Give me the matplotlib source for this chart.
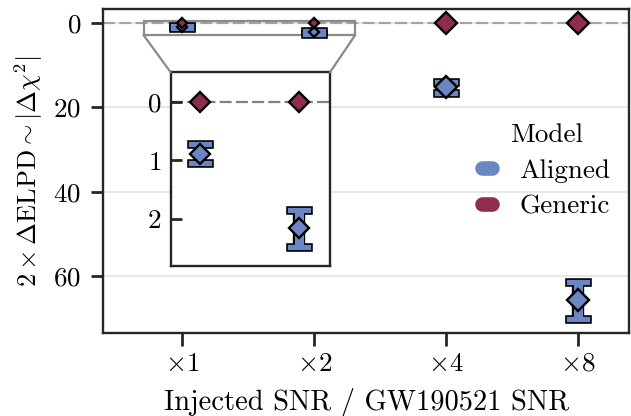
import matplotlib
matplotlib.use("Agg")
import matplotlib.pyplot as plt
from matplotlib.lines import Line2D
from matplotlib.markers import MarkerStyle
from matplotlib.patches import Rectangle, ConnectionPatch
import numpy as np

plt.rcParams.update({
    "font.family": "serif",
    "font.serif": ["cmr10"],
    "mathtext.fontset": "cm",
    "axes.unicode_minus": False,
    "axes.formatter.use_mathtext": True,
    "font.size": 19.5,
})

# injected SNR multipliers and 2*dELPD per model
snr_labels = [r"$\times 1$", r"$\times 2$", r"$\times 4$", r"$\times 8$"]
aligned_mean = [0.89, 2.16, 15.2, 65.8]
aligned_lo = [0.72, 1.85, 13.9, 61.4]
aligned_hi = [1.05, 2.47, 16.5, 70.2]
generic_mean = [0.0, 0.0, 0.0, 0.0]

blue = "#6a87c4"
red = "#8e2d50"
dark = "#262626"

x = np.arange(len(snr_labels))
aligned_mean = np.array(aligned_mean)
yerr = np.vstack([aligned_mean - np.array(aligned_lo),
                  np.array(aligned_hi) - aligned_mean])

fig = plt.figure(figsize=(6.31, 4.16), dpi=100)
ax = fig.add_axes([0.1637, 0.2002, 0.8339, 0.7782])
axins = fig.add_axes([0.2705, 0.3606, 0.2525, 0.4656])


def errbars(a, idx, color, extra, z):
    # "I" shaped bars: black pass first, blue pass on top
    eb = a.errorbar(x[idx], aligned_mean[idx], yerr=yerr[:, idx], fmt="none",
                    ecolor=color, elinewidth=6.5 + extra,
                    capsize=6.8, capthick=3.8 + extra, zorder=z)
    for cl in eb[1]:
        cl.set_marker(MarkerStyle("_", capstyle="projecting"))


def draw_points(a, idx, big, small_idx=()):
    a.axhline(0, color="#808080" if a is axins else "#a3a3a3", lw=1.6,
              ls=(0, (5.4, 1.9)), zorder=1)
    errbars(a, idx, "k", 2.4, 2.5)
    errbars(a, idx, blue, 0, 3)
    for i in idx:
        ms = 5.5 if i in small_idx else big
        a.plot(x[i], aligned_mean[i], "D", ms=ms, mfc=blue, mec="k",
               mew=1.7, zorder=4)
        a.plot(x[i], generic_mean[i], "D", ms=ms, mfc=red, mec="k",
               mew=1.7, zorder=5)


draw_points(ax, [0, 1, 2, 3], 11, small_idx=(0, 1))
draw_points(axins, [0, 1], 10.5)

ax.set_xlim(-0.6, 3.39)
ax.set_ylim(73.5, -3.4)
ax.set_xticks(x)
ax.set_xticklabels(snr_labels)
ax.set_yticks([0, 20, 40, 60])
ax.yaxis.grid(True, color="#e3e3e3", lw=1.2, zorder=0)
ax.set_axisbelow(True)
ax.set_xlabel("Injected SNR / GW190521 SNR", fontsize=20.5, labelpad=9)
ax.set_ylabel(r"$2\times\Delta\mathrm{ELPD}\sim|\Delta\chi^2|$",
              fontsize=19, labelpad=6)
ax.tick_params(direction="out", length=9, width=2, color=dark, pad=7)
ax.tick_params(axis="x", pad=5)

axins.set_xlim(-0.295, 1.31)
axins.set_ylim(2.8, -0.5)
axins.set_xticks([])
axins.set_yticks([0, 1, 2])
axins.tick_params(axis="y", direction="in", length=8, width=2, color=dark,
                  pad=7)

for a in (ax, axins):
    for s in a.spines.values():
        s.set_linewidth(1.7)
        s.set_color(dark)

# zoom indicator box and connector lines
x0, x1 = axins.get_xlim()
y0, y1 = axins.get_ylim()
ax.add_patch(Rectangle((x0, y1), x1 - x0, y0 - y1, fill=False,
                       edgecolor="#8a8a8a", lw=1.6, zorder=2))
for xc, xf in ((x0, 0), (x1, 1)):
    con = ConnectionPatch(xyA=(xc, y0), coordsA=ax.transData,
                          xyB=(xf, 1), coordsB=axins.transAxes,
                          color="#8a8a8a", lw=1.6)
    fig.add_artist(con)

handles = [Line2D([], [], color=blue, lw=10.5, solid_capstyle="round"),
           Line2D([], [], color=red, lw=10.5, solid_capstyle="round")]
ax.legend(handles, ["Aligned", "Generic"], title="Model", frameon=False,
          loc="center left", bbox_to_anchor=(0.70, 0.5), handlelength=0.35,
          handletextpad=1.0, labelspacing=0.45, borderaxespad=0)

fig.savefig("out.png", dpi=100)
